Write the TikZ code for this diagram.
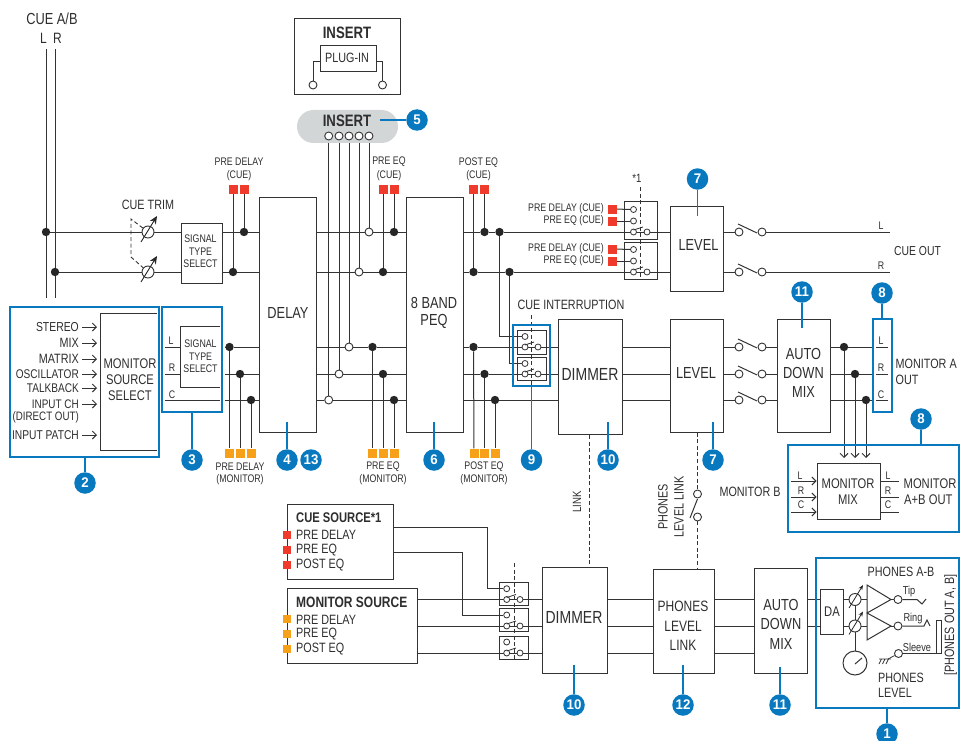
\documentclass[tikz,border=0pt]{standalone}
\usepackage{fontspec}
\setmainfont{Liberation Sans}[FakeStretch=0.8]
\newfontfamily\badgefont{Liberation Sans}[FakeStretch=0.95]
\usetikzlibrary{arrows.meta,backgrounds,calc}
\definecolor{ink}{HTML}{2E2E2E}
\definecolor{rl}{HTML}{333333}
\definecolor{blu}{HTML}{0878BF}
\definecolor{redq}{HTML}{EF3B2C}
\definecolor{orq}{HTML}{F7A11A}
\definecolor{pill}{HTML}{D3D6D6}
\newcommand\sz[1]{\fontsize{#1}{#1}\selectfont}
\newcounter{tn}
\newcommand\tx[3][]{\stepcounter{tn}\node[lb,#1] (t\arabic{tn}) at (#2) {#3};}
\newcommand\bx[6][]{\pgfmathsetmacro\bw{#5-#3}\pgfmathsetmacro\bh{#6-#4}\node[plainbox,minimum width=\bw pt,minimum height=\bh pt,#1] (#2) at ({(#3+#5)/2},{(#4+#6)/2}) {};}
\newcommand\jd[2]{\node[jdot] (#1) at (#2) {};}
\newcommand\wc[2]{\node[wdot] (#1) at (#2) {};}
\newcommand\wcs[2]{\node[wdot,minimum size=6pt,line width=0.8pt] (#1) at (#2) {};}
\newcommand\sqr[3]{\node[sqn,fill=#2] (#1) at (#3) {};}
\newcommand\bd[3]{\node[badge] (#1) at (#2) {#3};}
\newcommand\stemto[2]{\coordinate (#1e) at (#2);\draw[stem] (#1) -- (#1e);}
\tikzset{
  lb/.style={inner sep=0pt,text=ink,font=\sz{13.5},align=center},
  sm/.style={font=\sz{11}},
  sel/.style={font=\sz{11}},
  big/.style={font=\sz{16}},
  bf/.style={font=\sz{15}\bfseries},
  plainbox/.style={draw=rl,line width=1pt,fill=white,inner sep=0pt},
  swbox/.style={fill=none},
  jdot/.style={circle,fill=black!85,inner sep=0pt,minimum size=8.4pt},
  wdot/.style={circle,draw=rl,line width=0.9pt,fill=white,inner sep=0pt,minimum size=8pt},
  sqn/.style={rectangle,inner sep=0pt,minimum size=9pt},
  gaind/.style={circle,draw=rl,line width=0.9pt,fill=white,inner sep=0pt,minimum size=12pt},
  badge/.style={circle,fill=blu,text=white,inner sep=0pt,minimum size=21.5pt,font=\sz{14}\badgefont\bfseries},
  stem/.style={draw=blu,line width=1.8pt},
  bluebox/.style={draw=blu,line width=2.4pt,fill=none,inner sep=0pt},
  ln/.style={draw=rl,line width=1pt},
  dsh/.style={draw=rl,line width=0.9pt,dash pattern=on 4pt off 2.6pt},
  oarr/.style={draw=rl,line width=0.9pt,-{Straight Barb[length=4pt,width=8pt]}},
  garr/.style={draw=black!85,line width=0.9pt,-{Stealth[length=8pt,width=7pt]}},
  sarr/.style={draw=black!85,line width=0.8pt,-{Stealth[length=5pt,width=4pt]}},
}
\begin{document}
\begin{tikzpicture}[x=1pt,y=-1pt]
\useasboundingbox (0,0) rectangle (961,741);
% rails
\coordinate (ycl) at (0,232); \coordinate (ycr) at (0,272);
\coordinate (yml) at (0,347); \coordinate (ymr) at (0,374); \coordinate (ymc) at (0,400);
\coordinate (ypl) at (0,599.5); \coordinate (ypr) at (0,626); \coordinate (ypc) at (0,653);
% boxes
\bx{stsA}{181}{223}{222}{283}
\bx{dly}{259}{197}{316}{432}
\bx{peq}{406}{197}{463}{432}
\bx{dimA}{558}{319}{622}{434.5}
\bx{lvlA}{670}{206}{723}{291}
\bx{lvlB}{670}{319}{723}{432}
\bx{admA}{777}{319}{830}{432}
\bx{mix}{817}{463}{880}{519}
\bx{dimB}{542}{567}{607}{673}
\bx{pll}{653}{569}{714}{673}
\bx{admB}{754.5}{568}{807.5}{673}
\bx{da}{820}{589}{843}{634}
\bx{cuesrc}{287}{504}{393}{579}
\bx{monsrc}{287}{588}{417}{663}
\bx{insbox}{294}{19}{400}{95}
\bx{plug}{320}{46}{376}{72}
% switch boxes
\bx[swbox]{swA}{624}{201}{657}{239}
\bx[swbox]{swB}{624}{242}{657}{279}
\bx[swbox]{swC}{517.5}{330.5}{546}{354}
\bx[swbox]{swD}{517.5}{357.5}{546}{380}
\bx[swbox]{swE}{499}{582.5}{528}{605}
\bx[swbox]{swF}{499}{608.5}{528}{631.5}
\bx[swbox]{swG}{499}{636}{528}{659}
% pill and insert
\node[fill=pill,rounded corners=16.5pt,minimum width=101pt,minimum height=33pt,inner sep=0pt] (pil) at (347.5,126.5) {};
\wc{iA}{328.7,136} \wc{iB}{339,136} \wc{iC}{349,136} \wc{iD}{359,136} \wc{iE}{369,136}
\wc{plA}{313,85} \wc{plB}{382.5,85}
% junctions
\jd{jA}{46,232} \jd{jB}{55,272}
\jd{jC}{244,232} \jd{jD}{233,272}
\wc{wE}{369,232} \wc{wD}{359,272}
\jd{jE}{394,232} \jd{jF}{383,272}
\jd{jG}{484.5,232} \jd{jH}{473.5,272}
\jd{jI}{499.5,232} \jd{jJ}{509.5,272}
\jd{jK}{229.5,347} \jd{jL}{240,374} \jd{jM}{251,400}
\wc{wC}{349,347} \wc{wB}{339,374} \wc{wA}{328.7,400}
\jd{jN}{372.5,347} \jd{jO}{383,374} \jd{jP}{394,400}
\jd{jQ}{473.5,347} \jd{jR}{484.5,374} \jd{jS}{495,400}
\jd{jT}{844,347} \jd{jU}{855,374} \jd{jV}{866,400}
% squares
\sqr{qA}{redq}{233,189} \sqr{qB}{redq}{244,189}
\sqr{qC}{redq}{383,189} \sqr{qD}{redq}{394,189}
\sqr{qE}{redq}{473.5,189} \sqr{qF}{redq}{484.5,189}
\sqr{qG}{redq}{612,209} \sqr{qH}{redq}{612,221} \sqr{qI}{redq}{612,249} \sqr{qJ}{redq}{612,261}
\sqr{oA}{orq}{229.5,453} \sqr{oB}{orq}{240,453} \sqr{oC}{orq}{251,453}
\sqr{oD}{orq}{372.5,453} \sqr{oE}{orq}{383,453} \sqr{oF}{orq}{394,453}
\sqr{oG}{orq}{474,453} \sqr{oH}{orq}{484.5,453} \sqr{oI}{orq}{495,453}
\node[sqn,minimum size=8pt,fill=redq] (rA) at (287,535) {};
\node[sqn,minimum size=8pt,fill=redq] (rB) at (287,550) {};
\node[sqn,minimum size=8pt,fill=redq] (rC) at (287,565) {};
\node[sqn,minimum size=8pt,fill=orq] (rD) at (287,619) {};
\node[sqn,minimum size=8pt,fill=orq] (rE) at (287,634) {};
\node[sqn,minimum size=8pt,fill=orq] (rF) at (287,649) {};
% gains
\node[gaind] (gA) at (148,232) {};
\node[gaind] (gB) at (148,272) {};
\node[gaind] (gC) at (855,599.5) {};
\node[gaind] (gD) at (855,626) {};
\node[circle,draw=rl,line width=1pt,fill=white,inner sep=0pt,minimum size=24pt] (knob) at (855,663) {};
% switch contacts
\wcs{swA1}{633.5,209.5} \wcs{swA2}{633.5,221} \wcs{swA3}{633.5,232} \wcs{swA4}{647,232}
\wcs{swB1}{633.5,249.5} \wcs{swB2}{633.5,261} \wcs{swB3}{633.5,272} \wcs{swB4}{647,272}
\wcs{swC1}{525,336.5} \wcs{swC2}{525,347} \wcs{swC3}{538,347}
\wcs{swD1}{525,363.5} \wcs{swD2}{525,374} \wcs{swD3}{538,374}
\wcs{swE1}{506.7,588.7} \wcs{swE2}{506.7,599.5} \wcs{swE3}{520,599.5}
\wcs{swF1}{506.7,615} \wcs{swF2}{506.7,626} \wcs{swF3}{520,626}
\wcs{swG1}{506.7,642} \wcs{swG2}{506.7,653} \wcs{swG3}{520,653}
\wc{oA1}{739,232} \wc{oA2}{762,232}
\wc{oB1}{739,272} \wc{oB2}{762,272}
\wc{oC1}{739,347} \wc{oC2}{762,347}
\wc{oD1}{739,374} \wc{oD2}{762,374}
\wc{oE1}{739,400} \wc{oE2}{762,400}
\wc{lkA}{697.5,494} \wc{lkB}{697.5,517}
\wc{tipc}{898,599.5} \wc{ringc}{898,626} \wc{slvc}{898.5,653.5}
% free ends
\coordinate (cLt) at (46,49); \coordinate (cLb) at (46,298);
\coordinate (cRt) at (55,49); \coordinate (cRb) at (55,298);
\coordinate (endL) at (890,232); \coordinate (endR) at (890,272);
\coordinate (lkx) at (589,0);
\coordinate (plx) at (697.5,0);
\coordinate (dtA) at (131,219); \coordinate (dtB) at (131,257);
\coordinate (hL) at (165,347); \coordinate (hR) at (165,374); \coordinate (hC) at (165,400);
\coordinate (hLe) at (180,347); \coordinate (hRe) at (180,374); \coordinate (hCe) at (220,400);
\coordinate (stL) at (225,347); \coordinate (stR) at (225,374); \coordinate (stC) at (225,400);
\coordinate (mLe) at (872,347); \coordinate (mRe) at (872,374); \coordinate (mCe) at (872,400);
\coordinate (oL1) at (876,347); \coordinate (oL2) at (888,347);
\coordinate (oR1) at (876,374); \coordinate (oR2) at (888,374);
\coordinate (oC1a) at (876,400); \coordinate (oC2a) at (888,400);
\coordinate (bxL1) at (791,481); \coordinate (bxR1) at (791,497); \coordinate (bxC1) at (791,512);
\coordinate (bxL2) at (899,481); \coordinate (bxR2) at (899,497); \coordinate (bxC2) at (899,512);
\coordinate (vA) at (499.5,336.5); \coordinate (vB) at (509.5,363.5);
\coordinate (kA) at (487,588.7); \coordinate (kB) at (462,615);
\coordinate (cA) at (393,527); \coordinate (cB) at (393,552.5);
\coordinate (pluA) at (313,62); \coordinate (pluB) at (382.5,62);
\coordinate (gangA) at (514.3,563); \coordinate (gangAe) at (514.3,659);
\coordinate (gangB) at (640,187); \coordinate (gangBe) at (640,279);
\coordinate (gangC) at (531.5,315); \coordinate (gangCe) at (531.5,386);
\begin{scope}[on background layer]
% CUE bus
\draw[ln] (cLt) -- (jA) -- (cLb);
\draw[ln] (cRt) -- (jB) -- (cRb);
\draw[ln] (jA) -- (gA) -- (stsA.west |- ycl);
\draw[ln] (jB) -- (gB) -- (stsA.west |- ycr);
\draw[ln] (stsA.east |- ycl) -- (jC) -- (dly.west |- ycl);
\draw[ln] (stsA.east |- ycr) -- (jD) -- (dly.west |- ycr);
\draw[ln] (dly.east |- ycl) -- (wE) -- (jE) -- (peq.west |- ycl);
\draw[ln] (dly.east |- ycr) -- (wD) -- (jF) -- (peq.west |- ycr);
\draw[ln] (peq.east |- ycl) -- (jG) -- (jI) -- (lvlA.west |- ycl);
\draw[ln] (peq.east |- ycr) -- (jH) -- (jJ) -- (lvlA.west |- ycr);
\draw[ln] (lvlA.east |- ycl) -- (oA1); \draw[ln] (oA2) -- (endL);
\draw[ln] (lvlA.east |- ycr) -- (oB1); \draw[ln] (oB2) -- (endR);
% tap lines
\draw[ln] (qB) -- (jC); \draw[ln] (qA) -- (jD);
\draw[ln] (qD) -- (jE); \draw[ln] (qC) -- (jF);
\draw[ln] (qF) -- (jG); \draw[ln] (qE) -- (jH);
\draw[ln] (iE) -- (wE); \draw[ln] (iD) -- (wD); \draw[ln] (iC) -- (wC); \draw[ln] (iB) -- (wB); \draw[ln] (iA) -- (wA);
\draw[ln] (qG) -- (swA1); \draw[ln] (qH) -- (swA2);
\draw[ln] (qI) -- (swB1); \draw[ln] (qJ) -- (swB2);
\draw[ln] (jI) |- (vA) -- (swC1);
\draw[ln] (jJ) |- (vB) -- (swD1);
% monitor rails
\draw[ln] (hL) -- (hLe); \draw[ln] (hR) -- (hRe); \draw[ln] (hC) -- (hCe);
\draw[ln] (stL) -- (jK) -- (dly.west |- yml);
\draw[ln] (stR) -- (jL) -- (dly.west |- ymr);
\draw[ln] (stC) -- (jM) -- (dly.west |- ymc);
\draw[ln] (jK) -- (oA); \draw[ln] (jL) -- (oB); \draw[ln] (jM) -- (oC);
\draw[ln] (dly.east |- yml) -- (wC) -- (jN) -- (peq.west |- yml);
\draw[ln] (dly.east |- ymr) -- (wB) -- (jO) -- (peq.west |- ymr);
\draw[ln] (dly.east |- ymc) -- (wA) -- (jP) -- (peq.west |- ymc);
\draw[ln] (jN) -- (oD); \draw[ln] (jO) -- (oE); \draw[ln] (jP) -- (oF);
\draw[ln] (peq.east |- yml) -- (jQ) -- (dimA.west |- yml);
\draw[ln] (peq.east |- ymr) -- (jR) -- (dimA.west |- ymr);
\draw[ln] (peq.east |- ymc) -- (jS) -- (dimA.west |- ymc);
\draw[ln] (jQ) -- (oG); \draw[ln] (jR) -- (oH); \draw[ln] (jS) -- (oI);
\draw[ln] (dimA.east |- yml) -- (lvlB.west |- yml);
\draw[ln] (dimA.east |- ymr) -- (lvlB.west |- ymr);
\draw[ln] (dimA.east |- ymc) -- (lvlB.west |- ymc);
\draw[ln] (lvlB.east |- yml) -- (oC1); \draw[ln] (oC2) -- (admA.west |- yml);
\draw[ln] (lvlB.east |- ymr) -- (oD1); \draw[ln] (oD2) -- (admA.west |- ymr);
\draw[ln] (lvlB.east |- ymc) -- (oE1); \draw[ln] (oE2) -- (admA.west |- ymc);
\draw[ln] (admA.east |- yml) -- (jT) -- (mLe);
\draw[ln] (admA.east |- ymr) -- (jU) -- (mRe);
\draw[ln] (admA.east |- ymc) -- (jV) -- (mCe);
\draw[ln] (oL1) -- (oL2); \draw[ln] (oR1) -- (oR2); \draw[ln] (oC1a) -- (oC2a);
% phones rails
\draw[ln] (cA) -| (kA) -- (swE1);
\draw[ln] (cB) -| (kB) -- (swF1);
\draw[ln] (monsrc.east |- ypl) -- (dimB.west |- ypl);
\draw[ln] (monsrc.east |- ypr) -- (dimB.west |- ypr);
\draw[ln] (monsrc.east |- ypc) -- (dimB.west |- ypc);
\draw[ln] (dimB.east |- ypl) -- (pll.west |- ypl);
\draw[ln] (dimB.east |- ypr) -- (pll.west |- ypr);
\draw[ln] (dimB.east |- ypc) -- (pll.west |- ypc);
\draw[ln] (pll.east |- ypl) -- (admB.west |- ypl);
\draw[ln] (pll.east |- ypr) -- (admB.west |- ypr);
\draw[ln] (pll.east |- ypc) -- (admB.west |- ypc);
\draw[ln] (admB.east |- ypl) -- (da.west |- ypl);
\draw[ln] (admB.east |- ypr) -- (da.west |- ypr);
\draw[ln] (da.east |- ypl) -- (gC) -- (tipc);
\draw[ln] (da.east |- ypr) -- (gD) -- (ringc);
\draw[ln] (gC) -- (gD) -- (knob);
% dashed links
\draw[dsh] (lkx |- dimA.south) -- (lkx |- dimB.north);
\draw[dsh] (plx |- lvlB.south) -- (lkA);
\draw[dsh] (lkB) -- (plx |- pll.north);
\draw[dsh] (gangA) -- (gangAe);
\draw[dsh] (gangB) -- (gangBe);
\draw[dsh] (gangC) -- (gangCe);
\draw[dsh] (gA) -- (dtA) -- (dtB) -- (gB);
\end{scope}
% insert legend
\draw[ln] (plug.west |- pluA) -- (pluA) -- (plA);
\draw[ln] (plug.east |- pluB) -- (pluB) -- (plB);
% monitor arrows
\coordinate (aT) at (844,458); \coordinate (aU) at (855,458); \coordinate (aV) at (866,458);
\draw[oarr] (jT) -- (aT); \draw[oarr] (jU) -- (aU); \draw[oarr] (jV) -- (aV);
\draw[oarr] (bxL1) -- (mix.west |- bxL1);
\draw[oarr] (bxR1) -- (mix.west |- bxR1);
\draw[oarr] (bxC1) -- (mix.west |- bxC1);
\draw[ln] (mix.east |- bxL2) -- (bxL2);
\draw[ln] (mix.east |- bxR2) -- (bxR2);
\draw[ln] (mix.east |- bxC2) -- (bxC2);
% gain arrows
\draw[garr] (141,242) -- (157,216);
\draw[garr] (141,282) -- (157,256);
\draw[sarr] (849,608) -- (863,585);
\draw[sarr] (849,634.5) -- (863,611.5);
% switch arms
\draw[ln] (738,224) -- (757,233); \draw[ln] (738,264) -- (757,273);
\draw[ln] (738,339) -- (757,348); \draw[ln] (738,366) -- (757,375); \draw[ln] (738,392) -- (757,401);
\draw[ln,line width=.8pt] (633.5,230) -- (643,227); \draw[ln,line width=.8pt] (633.5,270) -- (643,267);
\draw[ln,line width=.8pt] (525,345) -- (534,342); \draw[ln,line width=.8pt] (525,372) -- (534,369);
\draw[ln,line width=.8pt] (506.7,597.5) -- (516,594.5); \draw[ln,line width=.8pt] (506.7,624) -- (516,621); \draw[ln,line width=.8pt] (506.7,651) -- (516,648);
\draw[ln] (690,518) -- (697.5,499);
% phones output
\draw[line width=1pt,draw=rl,fill=white] (867,585) -- (891,599.5) -- (867,613) -- cycle;
\draw[line width=1pt,draw=rl,fill=white] (867,613) -- (891,626) -- (867,640) -- cycle;
\coordinate (tipe) at (917,599.5); \coordinate (ringe) at (924,626); \coordinate (slve) at (936,653.5);
\draw[ln] (tipc) -- (tipe) -- (922,604) -- (926,599);
\draw[ln] (ringc) -- (ringe) -- (927,620) -- (930,626);
\draw[ln] (slvc) -- (slve);
\bx{jack}{936}{620}{941}{653.5}
\coordinate (gnd) at (888,659);
\draw[ln,line width=0.8pt] (slvc) -- (gnd);
\draw[line width=0.8pt,draw=rl] (879,659) -- (891,659) (881.5,659) -- (879,664) (885,659) -- (882.5,664) (888.5,659) -- (886,664);
\draw[ln] (855,664) -- (862,658);
% text
\tx[big]{52,19}{CUE A/B}
\tx[font=\sz{15}]{43.5,38}{L} \tx[font=\sz{15}]{57.5,38}{R}
\tx{148,205}{CUE TRIM}
\tx[sm]{239,162}{PRE DELAY} \tx[sm]{239,175.5}{(CUE)}
\tx[sm]{389,162}{PRE EQ} \tx[sm]{389,175.5}{(CUE)}
\tx[sm]{478.5,163}{POST EQ} \tx[sm]{478.5,176}{(CUE)}
\tx[sel]{200.5,239}{SIGNAL} \tx[sel]{200.5,252}{TYPE} \tx[sel]{200.5,264}{SELECT}
\tx[sel]{200.5,344}{SIGNAL} \tx[sel]{200.5,357}{TYPE} \tx[sel]{200.5,369}{SELECT}
\tx[sm]{171,341}{L} \tx[sm]{172,368}{R} \tx[sm]{172,395}{C}
\tx[big]{288,313}{DELAY}
\tx[font=\sz{14}]{130,364}{MONITOR} \tx[font=\sz{14}]{130,380}{SOURCE} \tx[font=\sz{14}]{130,396}{SELECT}
\node[lb,anchor=east,font=\sz{13}] (nA) at (79,327) {STEREO};
\node[lb,anchor=east] (nB) at (79,343) {MIX};
\node[lb,anchor=east] (nC) at (79,359) {MATRIX};
\node[lb,anchor=east,font=\sz{12.6}] (nD) at (79,374) {OSCILLATOR};
\node[lb,anchor=east,font=\sz{12.6}] (nE) at (79,388) {TALKBACK};
\node[lb,anchor=east,font=\sz{12.4}] (nF) at (79,404) {INPUT CH};
\node[lb,anchor=east,font=\sz{12.2}] (nG) at (79,417) {(DIRECT OUT)};
\node[lb,anchor=east,font=\sz{12.8}] (nH) at (79,435) {INPUT PATCH};
\coordinate (msx) at (97,0);
\draw[oarr,shorten <=3pt] (nA.east) -- (msx |- nA.east);
\draw[oarr,shorten <=3pt] (nB.east) -- (msx |- nB.east);
\draw[oarr,shorten <=3pt] (nC.east) -- (msx |- nC.east);
\draw[oarr,shorten <=3pt] (nD.east) -- (msx |- nD.east);
\draw[oarr,shorten <=3pt] (nE.east) -- (msx |- nE.east);
\draw[oarr,shorten <=3pt] (nF.east) -- (msx |- nF.east);
\draw[oarr,shorten <=3pt] (nH.east) -- (msx |- nH.east);
\tx[sm]{240,467}{PRE DELAY} \tx[sm]{240,480}{(MONITOR)}
\tx[sm]{383,467}{PRE EQ} \tx[sm]{383,480}{(MONITOR)}
\tx[sm]{484,467}{POST EQ} \tx[sm]{484,480}{(MONITOR)}
\tx[bf,font=\sz{16.5}\bfseries]{347,33}{INSERT}
\tx{347,58}{PLUG-IN}
\tx[bf,font=\sz{16.5}\bfseries]{347,121}{INSERT}
\tx[big]{434,303}{8 BAND} \tx[big]{434,321}{PEQ}
\tx{571,305}{CUE INTERRUPTION}
\tx[font=\sz{17.5}]{590,374}{DIMMER}
\tx[font=\sz{16}]{698.5,245}{LEVEL} \tx[font=\sz{16}]{696,373}{LEVEL}
\tx[big]{803.5,354}{AUTO} \tx[big]{803.5,373}{DOWN} \tx[big]{803.5,392}{MIX}
\tx[anchor=west]{895.5,364}{MONITOR A} \tx[anchor=west]{895.5,380}{OUT}
\tx[font=\sz{13}]{917.5,251}{CUE OUT}
\tx[sm]{881,226}{L} \tx[sm]{881,266}{R}
\tx[sm]{881,341}{L} \tx[sm]{881,368}{R} \tx[sm]{881,395}{C}
\tx[sm,anchor=east]{604,209}{PRE DELAY (CUE)} \tx[sm,anchor=east]{604,221}{PRE EQ (CUE)}
\tx[sm,anchor=east]{604,249}{PRE DELAY (CUE)} \tx[sm,anchor=east]{604,261}{PRE EQ (CUE)}
\tx[font=\sz{12}]{637,178}{*1}
\tx{750,492}{MONITOR B}
\tx[font=\sz{14}]{848,484}{MONITOR} \tx[font=\sz{14}]{848,500}{MIX}
\tx[font=\sz{14}]{930,484}{MONITOR} \tx[font=\sz{14},anchor=west]{904,500}{A+B OUT}
\tx[sm]{800,476}{L} \tx[sm]{801,491}{R} \tx[sm]{801,505}{C}
\tx[sm]{888,476}{L} \tx[sm]{888,491}{R} \tx[sm]{888,505}{C}
\tx[font=\sz{12},rotate=90]{577,502}{LINK}
\tx[rotate=90]{663,507}{PHONES} \tx[rotate=90]{679,507}{LEVEL LINK}
\tx[anchor=west,font=\sz{14}\bfseries]{296,518}{CUE SOURCE*1}
\tx[anchor=west]{296,535}{PRE DELAY} \tx[anchor=west]{296,550}{PRE EQ} \tx[anchor=west]{296,565}{POST EQ}
\tx[anchor=west,font=\sz{15}\bfseries]{296,602}{MONITOR SOURCE}
\tx[anchor=west]{296,619.5}{PRE DELAY} \tx[anchor=west]{296,634}{PRE EQ} \tx[anchor=west]{296,649}{POST EQ}
\tx[font=\sz{17.5}]{574,617.5}{DIMMER}
\tx[font=\sz{15}]{683,606}{PHONES} \tx[font=\sz{15}]{683,626}{LEVEL} \tx[font=\sz{15}]{683,645}{LINK}
\tx[big]{781,605}{AUTO} \tx[big]{781,624}{DOWN} \tx[big]{781,644}{MIX}
\tx[font=\sz{14}]{832,611.5}{DA}
\tx{901,572}{PHONES A-B}
\tx[anchor=west]{878,678}{PHONES} \tx[anchor=west]{878,693}{LEVEL}
\tx[font=\sz{11.5}]{909,592}{Tip} \tx[font=\sz{11.5}]{913,619}{Ring} \tx[font=\sz{11.5}]{917,647}{Sleeve}
\tx[font=\sz{13.5},rotate=90]{950.5,625}{[PHONES OUT A, B]}
% blue frames
\bx[bluebox]{frB}{10}{307}{159}{457}
\bx[bluebox]{frC}{162}{307}{222}{412}
\bx[bluebox]{frI}{513}{325}{550}{386}
\bx[bluebox]{frH}{873}{319}{892}{412}
\bx[bluebox]{frJ}{788}{445}{959}{532}
\bx[bluebox]{frA}{816}{558}{959}{708}
% open source boxes
\coordinate (mA) at (157,313); \coordinate (mB) at (100,313); \coordinate (mC) at (100,450); \coordinate (mD) at (157,450);
\draw[ln] (mA) -- (mB) -- (mC) -- (mD);
\coordinate (sA) at (220,326); \coordinate (sB) at (180,326); \coordinate (sC) at (180,387); \coordinate (sD) at (220,387);
\draw[ln] (sA) -- (sB) -- (sC) -- (sD);
% badges
\bd{bA}{887,734}{1} \stemto{bA}{887,708}
\bd{bB}{85,483}{2} \stemto{bB}{85,457}
\bd{bC}{192,460}{3} \stemto{bC}{192,412}
\bd{bD}{287,460}{4} \stemto{bD}{287,422}
\bd{bM}{311,460}{13}
\bd{bE}{417,120}{5} \stemto{bE}{380,120}
\bd{bF}{434,460}{6} \stemto{bF}{434,422}
\bd{bG}{697.5,179}{7} \stemto{bG}{697.5,216}
\bd{bH}{713,460}{7} \stemto{bH}{713,422}
\bd{bI}{882,293}{8} \stemto{bI}{882,319}
\bd{bJ}{921,419}{8} \stemto{bJ}{921,445}
\bd{bK}{531.5,460}{9} \stemto{bK}{531.5,386}
\bd{bL}{608,460}{10} \stemto{bL}{608,422}
\bd{bN}{574,705}{10} \stemto{bN}{574,665}
\bd{bO}{802,292}{11} \stemto{bO}{802,328}
\bd{bP}{780,705}{11} \stemto{bP}{780,667}
\bd{bQ}{683,705}{12} \stemto{bQ}{683,665}
\end{tikzpicture}
\end{document}
